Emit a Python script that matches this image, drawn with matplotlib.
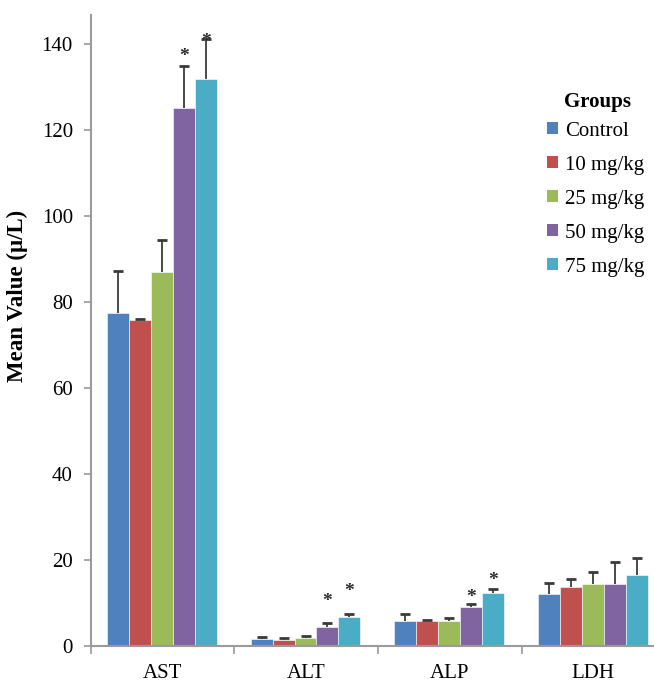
import numpy as np
import matplotlib
matplotlib.use('Agg')
import matplotlib.pyplot as plt
from matplotlib.patches import Patch

plt.rcParams['font.family'] = ['Liberation Serif', 'DejaVu Serif']

# Liver enzyme means and upper SD per group
enzymes = ['AST', 'ALT', 'ALP', 'LDH']
groups = ['Control', '10 mg/kg', '25 mg/kg', '50 mg/kg', '75 mg/kg']
colors = ['#4F81BD', '#C0504D', '#9BBB59', '#8064A2', '#4BACC6']

control = [77.5, 1.7, 5.9, 12.0]
dose_10 = [75.8, 1.5, 5.9, 13.6]
dose_25 = [87.0, 1.9, 5.9, 14.4]
dose_50 = [125.0, 4.5, 9.1, 14.5]
dose_75 = [131.9, 6.8, 12.4, 16.5]

sd_control = [9.7, 0.4, 1.5, 2.6]
sd_10 = [0.3, 0.3, 0.2, 1.9]
sd_25 = [7.4, 0.5, 0.7, 2.9]
sd_50 = [9.9, 0.8, 0.7, 5.0]
sd_75 = [9.1, 0.6, 0.9, 3.9]

# significant results: (enzyme index, group index, star height)
stars = [(0, 3, 135.0), (0, 4, 138.6), (1, 3, 8.4), (1, 4, 10.8),
         (2, 3, 9.4), (2, 4, 13.2)]

means = [control, dose_10, dose_25, dose_50, dose_75]
sds = [sd_control, sd_10, sd_25, sd_50, sd_75]

fig = plt.figure(figsize=(6.54, 6.86), dpi=100)
ax = fig.add_axes([0.139, 0.0583, 0.878, 0.92])

x = np.arange(len(enzymes))
width = 0.153
for i, (m, s) in enumerate(zip(means, sds)):
    pos = x + (i - 2) * width - 0.005
    ax.bar(pos, m, width, color=colors[i], edgecolor='white', linewidth=0.4)
    eb = ax.errorbar(pos, m, yerr=[np.zeros(len(s)), s], fmt='none',
                     ecolor='#3a3a3a', elinewidth=1.3, capsize=3.5, capthick=2)
    # only the upper cap is drawn
    eb[1][0].set_visible(False)

for e, g, y in stars:
    ax.text(x[e] + (g - 2) * width - 0.005, y, '*', ha='center', va='bottom',
            fontsize=14, fontweight='bold', color='#2a2a2a')

ax.set_xlim(-0.5, 3.5)
ax.set_ylim(0, 146.7)
ax.set_yticks(range(0, 141, 20))
ax.set_xticks(x)
ax.set_xticklabels(enzymes)
ax.set_xticks(np.arange(-0.5, 3.5, 1), minor=True)
ax.tick_params(axis='x', which='major', length=0, pad=13, labelsize=15)
ax.tick_params(axis='x', which='minor', length=6, color='#9a9a9a', width=1.2)
ax.tick_params(axis='y', length=5, color='#9a9a9a', width=1.2, labelsize=15, pad=8)

for side in ['top', 'right']:
    ax.spines[side].set_visible(False)
for side in ['left', 'bottom']:
    ax.spines[side].set_color('#9a9a9a')
    ax.spines[side].set_linewidth(1.5)

ax.set_ylabel('Mean Value (\u03bc/L)', fontsize=16.5, fontweight='bold')
ax.yaxis.set_label_coords(-0.11, 0.555)

handles = [Patch(facecolor=c, edgecolor='none') for c in colors]
fig.legend(handles, groups, loc='upper left', bbox_to_anchor=(0.82, 0.838),
           frameon=False, fontsize=15, handlelength=0.55, handleheight=0.55,
           handletextpad=0.35, labelspacing=0.72, borderpad=0)
fig.text(0.862, 0.851, 'Groups', fontsize=15, fontweight='bold', va='center')

fig.savefig('out.png', dpi=100)
